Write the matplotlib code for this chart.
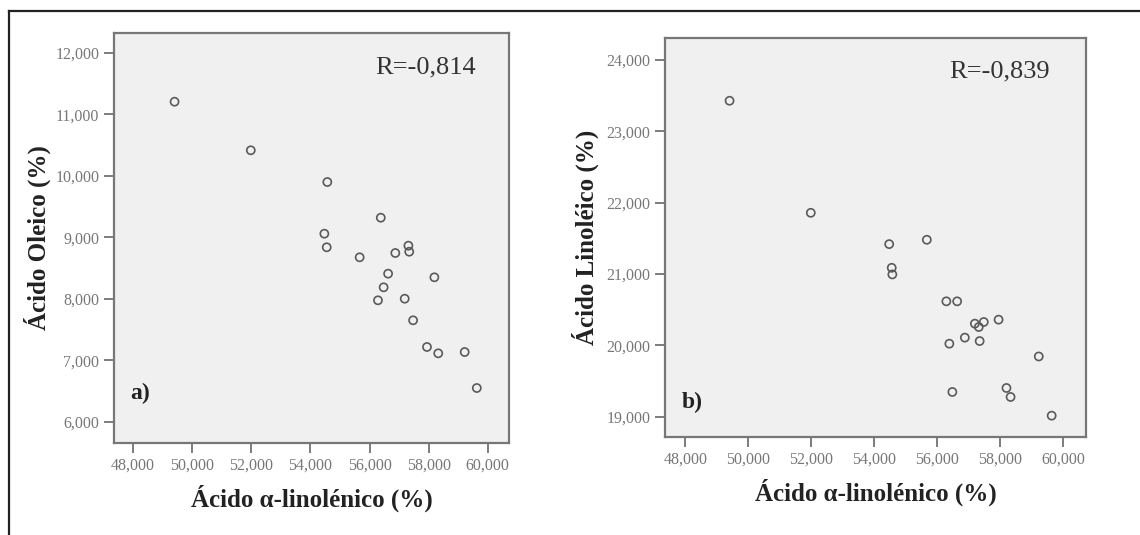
import matplotlib
matplotlib.use('Agg')
import matplotlib.pyplot as plt
from matplotlib.lines import Line2D
from matplotlib.ticker import FuncFormatter

# Ácido alfa-linolénico (%) - mismo eje x en ambos paneles
linolenico = [49400, 51980, 54470, 54550, 54570, 55665, 56285, 56380, 56476, 56628,
              56872, 57190, 57315, 57343, 57474, 57944, 58194, 58325, 59220, 59630]
oleico = [11203, 10413, 9057, 8836, 9897, 8673, 7974, 9317, 8185, 8407,
          8743, 8000, 8862, 8764, 7649, 7215, 8348, 7112, 7133, 6548]
linoleico = [23429, 21858, 21419, 21087, 20994, 21480, 20617, 20023, 19346, 20617,
             20108, 20304, 20257, 20060, 20327, 20360, 19402, 19276, 19844, 19014]

xticks = [48000, 50000, 52000, 54000, 56000, 58000, 60000]
yticks_a = [6000, 7000, 8000, 9000, 10000, 11000, 12000]
yticks_b = [19000, 20000, 21000, 22000, 23000, 24000]

plt.rcParams['font.family'] = ['Liberation Serif', 'DejaVu Serif']

fig = plt.figure(figsize=(11.4, 5.35), dpi=100)

# marco exterior (solo arriba e izquierda visibles)
fig.add_artist(Line2D([9/1140, 9/1140], [0, 1 - 11/535], color='#222', lw=1.6))
fig.add_artist(Line2D([9/1140, 1], [1 - 11/535, 1 - 11/535], color='#222', lw=1.6))

fmt = FuncFormatter(lambda v, p: f"{int(v):,}")


def panel(rect, y, yticks, ylim, ylabel, rtext, tag, tag_y, ypad):
    ax = fig.add_axes(rect)
    ax.set_facecolor('#f0f0f0')
    ax.scatter(linolenico, y, s=34, facecolors='none', edgecolors='#5a5a5a', linewidths=1.2)
    ax.set_xlim(47350, 60720)
    ax.set_ylim(*ylim)
    ax.set_xticks(xticks)
    ax.set_yticks(yticks)
    ax.xaxis.set_major_formatter(fmt)
    ax.yaxis.set_major_formatter(fmt)
    ax.tick_params(direction='out', length=7, width=1.2, color='#666',
                   labelcolor='#777', labelsize=11.5)
    for s in ax.spines.values():
        s.set_color('#777')
        s.set_linewidth(1.6)
    ax.set_xlabel('Ácido α-linolénico (%)', fontsize=18, fontweight='bold', color='#222', labelpad=8)
    ax.set_ylabel(ylabel, fontsize=18, fontweight='bold', color='#222', labelpad=ypad)
    ax.text(0.915, 0.915, rtext, transform=ax.transAxes, ha='right', va='center',
            fontsize=19, color='#333')
    ax.text(0.04, tag_y, tag, transform=ax.transAxes, ha='left', va='center',
            fontsize=17, fontweight='bold', color='#222')
    return ax


panel([114/1140, 1 - 443/535, 395/1140, 410/535], oleico, yticks_a, (5654, 12320),
      'Ácido Oleico (%)', 'R=-0,814', 'a)', 0.122, 3)
panel([665/1140, 1 - 436.7/535, 421/1140, 399/535], linoleico, yticks_b, (18719, 24313),
      'Ácido Linoléico (%)', 'R=-0,839', 'b)', 0.085, 5)

fig.savefig('out.png', dpi=100, facecolor='white')
